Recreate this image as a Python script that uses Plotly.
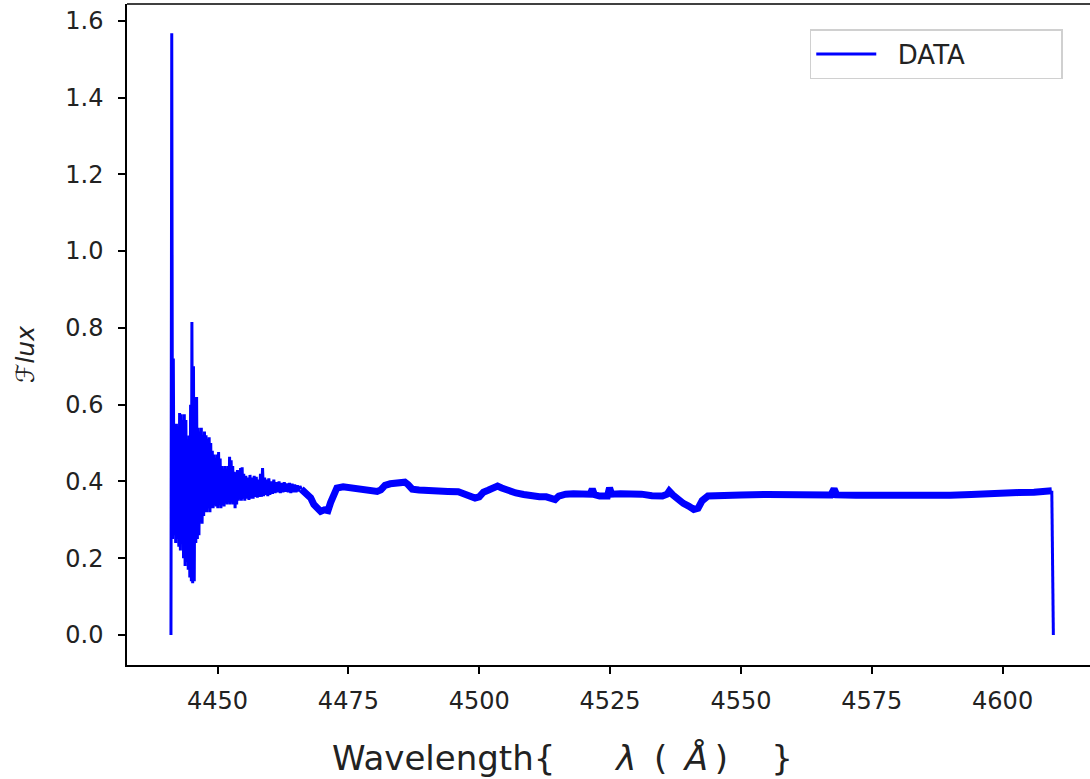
import plotly.graph_objects as go

# noisy blue edge of the spectrum (wavelength in Angstrom, flux)
noisy_wave = [
    4441.10, 4441.25, 4441.40, 4441.55, 4441.70, 4441.85, 4442.00, 4442.15, 4442.30, 4442.45,
    4442.60, 4442.75, 4442.90, 4443.05, 4443.20, 4443.35, 4443.50, 4443.65, 4443.80, 4443.95,
    4444.10, 4444.25, 4444.40, 4444.55, 4444.70, 4444.85, 4445.00, 4445.10, 4445.25, 4445.40,
    4445.55, 4445.70, 4445.85, 4446.00, 4446.15, 4446.30, 4446.45, 4446.60, 4446.75, 4446.90,
    4447.05, 4447.20, 4447.35, 4447.50, 4447.65, 4447.80, 4447.95, 4448.10, 4448.25, 4448.40,
    4448.55, 4448.70, 4448.85, 4449.00, 4449.15, 4449.30, 4449.45, 4449.60, 4449.75, 4449.90,
    4450.05, 4450.20, 4450.35, 4450.50, 4450.65, 4450.80, 4450.95, 4451.10, 4451.25, 4451.40,
    4451.55, 4451.70, 4451.85, 4452.00, 4452.15, 4452.30, 4452.45, 4452.60, 4452.75, 4452.90,
    4453.05, 4453.20, 4453.35, 4453.50, 4453.65, 4453.80, 4453.95, 4454.10, 4454.25, 4454.40,
    4454.55, 4454.70, 4454.85, 4455.00, 4455.20, 4455.40, 4455.60, 4455.80, 4456.00, 4456.20,
    4456.40, 4456.60, 4456.80, 4457.00, 4457.20, 4457.40, 4457.60, 4457.80, 4458.00, 4458.20,
    4458.40, 4458.60, 4458.80, 4459.00, 4459.20, 4459.40, 4459.60, 4459.80, 4460.00, 4460.25,
    4460.50, 4460.75, 4461.00, 4461.25, 4461.50, 4461.75, 4462.00, 4462.25, 4462.50, 4462.75,
    4463.00, 4463.25, 4463.50, 4463.75, 4464.00, 4464.25, 4464.50, 4464.75, 4465.00, 4465.25,
    4465.50, 4465.75, 4466.00,
]
noisy_flux = [
    0.000, 1.567, 0.250, 0.720, 0.260, 0.480, 0.240, 0.550, 0.250, 0.540,
    0.230, 0.578, 0.220, 0.575, 0.240, 0.560, 0.200, 0.575, 0.180, 0.560,
    0.190, 0.500, 0.170, 0.520, 0.150, 0.600, 0.140, 0.815, 0.135, 0.700,
    0.140, 0.560, 0.240, 0.620, 0.250, 0.540, 0.260, 0.530, 0.300, 0.540,
    0.290, 0.520, 0.310, 0.530, 0.320, 0.520, 0.320, 0.510, 0.330, 0.515,
    0.320, 0.500, 0.330, 0.480, 0.330, 0.470, 0.340, 0.450, 0.335, 0.470,
    0.330, 0.477, 0.340, 0.460, 0.330, 0.440, 0.340, 0.430, 0.335, 0.440,
    0.345, 0.430, 0.340, 0.440, 0.345, 0.464, 0.340, 0.455, 0.345, 0.440,
    0.340, 0.425, 0.330, 0.420, 0.340, 0.430, 0.350, 0.420, 0.355, 0.435,
    0.350, 0.437, 0.355, 0.420, 0.350, 0.415, 0.355, 0.410, 0.352, 0.417,
    0.355, 0.410, 0.355, 0.415, 0.360, 0.412, 0.358, 0.405, 0.360, 0.420,
    0.360, 0.435, 0.362, 0.410, 0.365, 0.405, 0.362, 0.408, 0.365, 0.400,
    0.368, 0.405, 0.370, 0.398, 0.372, 0.400, 0.370, 0.396, 0.372, 0.398,
    0.373, 0.395, 0.372, 0.396, 0.370, 0.394, 0.372, 0.392, 0.372, 0.390,
    0.374, 0.388, 0.380,
]

# quieter part of the spectrum
smooth_wave = [
    4466.0, 4466.6, 4467.2, 4467.8, 4468.4, 4469.0, 4469.7, 4470.4, 4471.1, 4471.6,
    4472.2, 4472.8, 4474.0, 4475.0, 4476.0, 4477.5, 4479.0, 4480.5, 4481.2, 4482.0,
    4483.0, 4484.1, 4485.0, 4485.8, 4486.4, 4487.2, 4488.5, 4490.0, 4492.0, 4494.0,
    4496.0, 4497.2, 4498.3, 4499.2, 4500.0, 4500.8, 4501.7, 4502.6, 4503.5, 4504.3,
    4505.5, 4507.0, 4508.5, 4510.0, 4511.5, 4512.8, 4513.8, 4514.5, 4515.2, 4516.5,
    4518.0, 4519.5, 4521.2, 4521.6, 4522.0, 4523.0, 4524.5, 4524.9, 4525.3, 4527.0,
    4529.0, 4531.0, 4533.0, 4535.0, 4535.9, 4536.3, 4537.0, 4538.0, 4539.0, 4540.0,
    4541.0, 4541.8, 4542.6, 4543.7, 4546.0, 4550.0, 4555.0, 4560.0, 4565.0, 4567.2,
    4567.8, 4568.3, 4572.0, 4576.0, 4580.0, 4585.0, 4590.0, 4594.0, 4597.0, 4600.0,
    4603.0, 4606.0, 4608.5, 4609.4,
]
smooth_flux = [
    0.380, 0.373, 0.365, 0.357, 0.340, 0.328, 0.322, 0.326, 0.324, 0.345,
    0.370, 0.383, 0.386, 0.384, 0.385, 0.379, 0.376, 0.374, 0.378, 0.390,
    0.394, 0.395, 0.396, 0.398, 0.392, 0.380, 0.378, 0.376, 0.375, 0.374,
    0.373, 0.368, 0.361, 0.357, 0.360, 0.372, 0.377, 0.383, 0.388, 0.383,
    0.375, 0.370, 0.366, 0.362, 0.360, 0.360, 0.356, 0.353, 0.362, 0.367,
    0.368, 0.368, 0.367, 0.380, 0.366, 0.362, 0.362, 0.383, 0.367, 0.368,
    0.368, 0.367, 0.363, 0.362, 0.367, 0.375, 0.365, 0.352, 0.343, 0.336,
    0.327, 0.330, 0.350, 0.362, 0.364, 0.365, 0.366, 0.366, 0.365, 0.365,
    0.381, 0.365, 0.364, 0.363, 0.363, 0.364, 0.364, 0.366, 0.369, 0.370,
    0.371, 0.372, 0.373, 0.376,
]

# drop back to zero at the red end
edge_wave = [4609.4, 4609.7]
edge_flux = [0.376, 0.0]

x_ticks = [4450, 4475, 4500, 4525, 4550, 4575, 4600]
y_ticks = [0.0, 0.2, 0.4, 0.6, 0.8, 1.0, 1.2, 1.4, 1.6]

FONT = "DejaVu Sans"
BLUE = "#0000ff"
nb = "\u00a0"
thin = "\u2009"

fig = go.Figure()
fig.add_trace(go.Scatter(x=noisy_wave, y=noisy_flux, mode="lines", name=nb * 2 + "DATA" + nb * 11,
                         line=dict(color=BLUE, width=3)))
fig.add_trace(go.Scatter(x=smooth_wave, y=smooth_flux, mode="lines", showlegend=False,
                         line=dict(color=BLUE, width=7)))
fig.add_trace(go.Scatter(x=edge_wave, y=edge_flux, mode="lines", showlegend=False,
                         line=dict(color=BLUE, width=3)))

fig.update_layout(
    width=1090, height=779,
    margin=dict(l=127, r=0, t=4, b=114),
    paper_bgcolor="white", plot_bgcolor="white",
    font=dict(family=FONT, color="#222"),
    showlegend=True,
    legend=dict(x=0.709, y=0.962, xanchor="left", yanchor="top",
                itemwidth=60,
                bgcolor="white", bordercolor="#d0d0d0", borderwidth=1.5,
                font=dict(family=FONT, size=26, color="#222")),
)
fig.update_xaxes(range=[4432.7, 4616.7], tickvals=x_ticks, showgrid=False, zeroline=False,
                 showline=True, linecolor="black", linewidth=1.5,
                 ticks="outside", ticklen=7, tickwidth=1.5, tickcolor="black",
                 ticklabelstandoff=6, tickfont=dict(family=FONT, size=24, color="#222"))
fig.update_yaxes(range=[-0.078, 1.6435], tickvals=y_ticks, tickformat=".1f",
                 showgrid=False, zeroline=False,
                 showline=True, linecolor="black", linewidth=1.5,
                 ticks="outside", ticklen=7, tickwidth=1.5, tickcolor="black",
                 ticklabelstandoff=10, tickfont=dict(family=FONT, size=24, color="#222"))

# top spine (right spine falls outside the cropped picture)
fig.add_shape(type="line", xref="paper", yref="paper", x0=0, x1=1, y0=1, y1=1,
              line=dict(color="black", width=1.5))

fig.add_annotation(xref="paper", yref="paper", x=0.2108, y=-0.1407,
                   xanchor="left", yanchor="middle", showarrow=False,
                   text="Wavelength{" + nb * 5 + thin + "<i>λ</i>" + nb + thin + "(" + nb + thin
                        + "<i>Å</i>" + thin + ")" + nb * 4 + "}",
                   font=dict(family=FONT, size=34, color="#222"))
fig.add_annotation(xref="paper", yref="paper", x=-0.106, y=0.47,
                   xanchor="center", yanchor="middle", showarrow=False, textangle=-90,
                   text="ℱ<i>lux</i>",
                   font=dict(family=FONT, size=25, color="#222"))

# page body margin would shift the figure by 8px
fig.write_html("out.html", config={"displayModeBar": False},
               post_script="document.body.style.margin='0';")
